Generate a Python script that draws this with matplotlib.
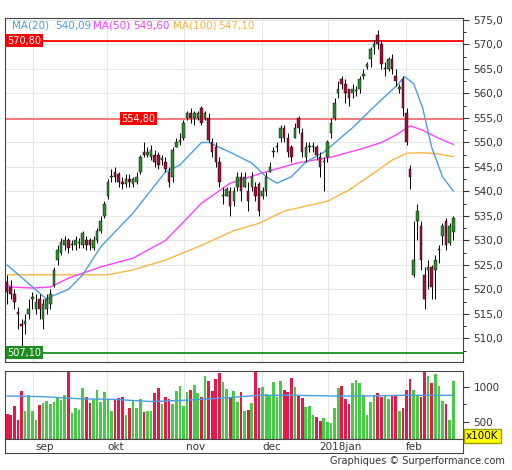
import matplotlib
matplotlib.use("Agg")
import matplotlib.pyplot as plt
from matplotlib.patches import Rectangle
from matplotlib.ticker import FuncFormatter, MultipleLocator
import numpy as np

opens = [521.5,520.5,519,515.5,513,513,515,518,516,518,514,516,517,521,
         526,527.5,529,530,529,529,529.5,529,530,530,528.5,530,532,535,539,
         543,544,543.5,542,541.5,542.5,541.5,542,544,548,547.5,547,547.5,547.5,546.5,546,
         544,543,549,550,551,555,556,555,555,557,555,555,550,549,546,539,539,540,538,
         541,543,541,540,541,541,541.5,539,540,544,548,549,551,553,551,549,551,555,552,547,
         549,549,549,547,546,547,552,555,560,563,562,561,560,560.5,561,563.5,565.5,567,569.5,
         572,570,565,565,567,563.5,561,563,556,544.5,523,534,533,523,524,524.6,524,528,531,534,529.5,531.7]
closes = [519.5,519,517.5,515,512.5,513.5,516,518.5,517.5,516,517,518,519,524,
          528,529.7,530,528.5,529.2,530,529.5,531.5,529,529,530,532,534,537.5,542,
          543.2,543,542,541.5,542.5,542,542.5,543,547,547.5,548,548.5,546,545.5,546.6,544.5,
          542,548.5,550,550.5,554,556,555,556,556,554,556,550.5,548,546,542,539.3,540.5,537,540,
          543,540,543,538,543,539,536,540,543,545,548.2,549.2,553,551,548,547,553,553,548,549,
          549.2,549.2,547.5,545,546.2,550,554,558,561,562,560,559,561,560.6,563,564,566,569,570,
          570,566,565.2,567,565,562.5,561.2,557,550,543,526,536,526,518,524.6,520.5,526,528.3,533,529,533,534.6]
highs = [523,522,520,516.5,514,515,518,519.5,519,519,518,519,520,524.5,
         529,530.5,531,530.5,530,531,530.5,532,531,530.5,531,532.5,535,538,542.5,
         544.5,545,544,543,543.5,543.5,543,544,547.5,550,549,549.5,548.5,548,547.5,547,
         545,549,551,552,554.5,556.5,557,556.5,556.5,557.5,556.5,556,551,550,547,541,541,541,541,
         544,544,544,542,544,542,542,541,544,546,549,550,553.5,553.5,552,549.5,554,555.5,553,550,
         550,550,549.5,548,547,550.5,555,559,562.5,563.5,563,561,562,561.5,563.5,565,566.5,569.5,571,
         573,571,566.5,567.5,568,565,562,563.5,557,545.5,534,537.5,534,524.5,526,525,527,529,533.5,534.5,533.5,535]
lows = [517,518,516,512,508,511,514,516,515,514,512,515,516,520.5,
        525,527,528,527.5,528,528,528.5,528.5,528,528,528,529.5,531.5,534.5,538.5,
        542,542,541,540.5,541,541,541,541.5,543.5,547,547,546.5,545,544.5,545.5,544,
        541,542,549,549.5,550.5,554.5,554,553.5,554.5,553.5,554.5,550,547,545,541,537.5,539,535,537,
        540,538,541,536,540,538,535,538.5,539,544,547,548,550,550,547,546,551,552,547,546,
        548,548,546.5,543,540,546,551,554.5,559,561,558,557.5,559,559.5,560,563,565,565.5,568,
        569,565,563.5,564.5,564,561.5,560,555.5,549.5,540.5,522.5,530,524,516,520,518,518,525.5,529,528,529,530]
volume = [610,600,720,520,940,660,880,650,520,740,770,800,750,780,840,810,880,1230,620,690,
          670,990,850,770,820,960,790,930,830,650,830,840,860,600,690,800,700,830,640,660,
          650,920,980,760,850,820,750,940,1020,720,930,950,1030,920,860,1160,1080,940,1110,1200,
          1070,970,850,940,790,930,650,670,770,1230,990,1000,900,870,1070,850,1080,960,930,1130,
          1000,880,840,710,720,600,570,510,550,490,480,700,980,1010,820,750,1050,1100,1050,880,
          590,780,880,910,850,870,820,890,880,650,700,950,1110,950,870,860,1230,1160,1050,1180,
          1010,800,760,520,1090]
vol_ma_x = [0,10,20,30,40,50,60,70,80,90,100,110,124]
vol_ma = [870,860,830,820,790,810,840,880,880,870,870,880,880]

ma20_x = [0,11,12,17,21,26,35,44,48,54,56,62,68,72,75,79,83,88,92,96,101,104,108,110.5,113,115.5,118,121,124]
ma20 = [525,518,518.5,520,523,528.7,535.6,544,545.4,550,550,548,545.8,543,541.7,543,546,548,550.5,553,556.6,558.7,561.4,563.4,562,557,549,543,540.1]
ma50_x = [0,1,7,12,17,26,35,44,48,54,62,71,80.5,90,99,104,108,112,115.5,119.5,124]
ma50 = [521,520.5,520.3,520.5,522.3,524.6,526.4,530,533,537.6,541.7,543.8,545.8,547,548.8,550,551.5,553.4,552.5,551,549.6]
ma100_x = [0,15,28,35,44,54,63,70,77,89,95,102,107,111,115,119.5,124]
ma100 = [523,523,523,524,526,529,532,533.5,536,538,540.3,543.8,546.4,547.8,547.9,547.7,547.1]

month_labels = ["sep", "okt", "nov", "dec", "2018jan", "feb"]
month_label_pos = [10.3, 30.3, 52.5, 73.6, 92.5, 113]
month_grid = [7.2, 27.8, 49.2, 70.8, 89.2, 110.8]
levels = [570.8, 554.8, 507.1]
level_text = ["570,80", "554,80", "507,10"]

W, H = 512, 470
fig = plt.figure(figsize=(W/100, H/100), dpi=100)
def rect(l, t, r, b):
    return [l/W, 1-b/H, (r-l)/W, (b-t)/H]
ax = fig.add_axes(rect(5, 18, 463, 362))
axv = fig.add_axes(rect(5, 371, 463, 439))
axl = fig.add_axes(rect(5, 439, 463, 453))
for a in (ax, axv, axl):
    for s in a.spines.values():
        s.set_color("#444444")

xlim = (-0.6, 126.7)
n = len(closes)
x = np.arange(n)
GREEN, RED = "#2e8b2e", "#a0103a"
for a in (ax, axv):
    a.set_xlim(*xlim)
    for g in month_grid:
        a.axvline(g, color="#e6e6e6", lw=0.8, zorder=0)
ax.set_ylim(505.2, 575.4)
for yv in range(510, 576, 5):
    ax.axhline(yv, color="#e6e6e6", lw=0.8, zorder=0)

ax.plot(ma100_x, ma100, color="#ffb347", lw=1.0, zorder=2)
ax.plot(ma50_x, ma50, color="#ff40ff", lw=1.0, zorder=2)
ax.plot(ma20_x, ma20, color="#4a9fe0", lw=1.0, zorder=2)

for i in x:
    o, c, h, l = opens[i], closes[i], highs[i], lows[i]
    col = GREEN if c >= o else RED
    ax.vlines(i, l, h, color="black", lw=0.7, zorder=3)
    bh = max(abs(c - o), 0.25)
    ax.add_patch(Rectangle((i-0.35, min(o, c)), 0.7, bh, facecolor=col,
                           edgecolor="black", lw=0.3, zorder=4))

lcol = ["#ff0000", "#f07070", "#1e8c1e"]
boxcol = ["#ff0000", "#ff0000", "#1e8c1e"]
for lv, tx, cc, bc, xx in zip(levels, level_text, lcol, boxcol, [0.0, 31.7, 0.0]):
    ax.axhline(lv, color=cc, lw=1.3, zorder=1)
    ax.text(xx, lv, tx, color="white", fontsize=7, va="center", ha="left",
            zorder=6, bbox=dict(boxstyle="square,pad=0.15", fc=bc, ec="none"))

ax.yaxis.tick_right()
ax.yaxis.set_major_locator(MultipleLocator(5))
ax.yaxis.set_minor_locator(MultipleLocator(2.5))
ax.yaxis.set_major_formatter(FuncFormatter(lambda v, p: f"{v:.1f}".replace(".", ",")))
ax.tick_params(axis="y", labelsize=7.5, colors="#333333", length=4)
ax.tick_params(axis="y", which="minor", length=2)
ax.set_xticks([])

legend = [("MA(20)", 12, "#4a9fe0"), ("540,09", 55, "#4a9fe0"),
          ("MA(50)", 93, "#ff40ff"), ("549,60", 133, "#ff40ff"),
          ("MA(100)", 173, "#ffb347"), ("547,10", 218, "#ffb347")]
for t, px, c in legend:
    fig.text(px/W, 1-26/H, t, color=c, fontsize=7.5, va="center", ha="left")

vcol = ["#e8174a" if closes[i] < opens[i] else "#44cc44" for i in x]
axv.bar(x, volume, width=0.75, color=vcol, zorder=2)
axv.plot(vol_ma_x, vol_ma, color="#4a9fe0", lw=1.0, zorder=3)
axv.set_ylim(250, 1230)
axv.yaxis.tick_right()
axv.set_yticks([500, 1000])
axv.set_yticklabels(["500", "1000"])
axv.yaxis.set_minor_locator(MultipleLocator(250))
axv.tick_params(axis="y", labelsize=7.5, colors="#333333", length=4)
axv.set_xticks([])
fig.text(466/W, 1-436/H, "x100K", fontsize=7.5, va="center", ha="left",
         bbox=dict(boxstyle="square,pad=0.2", fc="#ffff00", ec="#999900"))

axl.set_xlim(*xlim)
axl.set_ylim(0, 1)
axl.set_yticks([])
axl.set_xticks([])
for t, p in zip(month_labels, month_label_pos):
    axl.text(p, 0.45, t, ha="center", va="center", fontsize=7.5, color="#333333")

fig.text(505/W, 1-461/H, "Graphiques \u00a9 Surperformance.com", ha="right", va="center",
         fontsize=7, color="#333333")
fig.savefig("out.png", dpi=100)
